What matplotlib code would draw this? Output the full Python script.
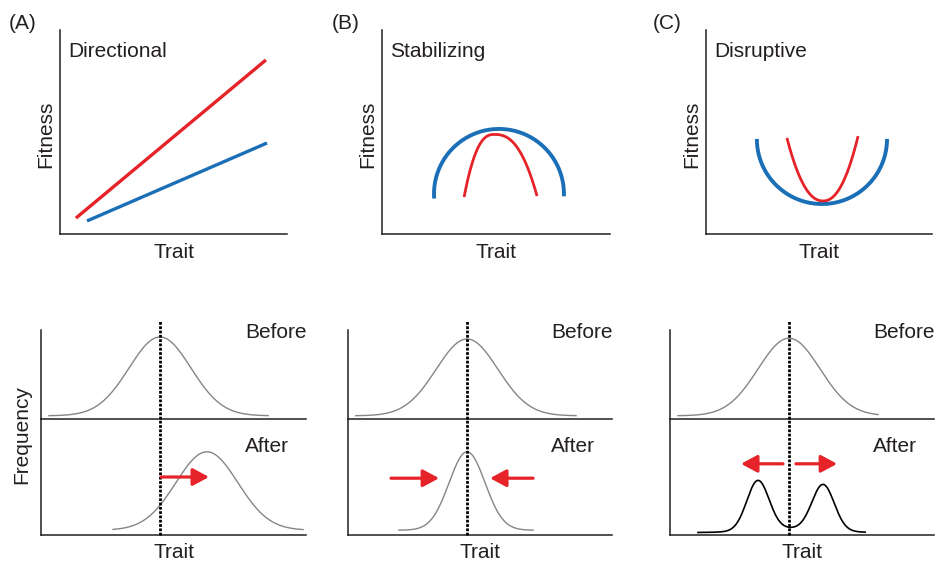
import numpy as np
import matplotlib
matplotlib.use("Agg")
import matplotlib.pyplot as plt

plt.rcParams['font.family'] = ['Liberation Sans', 'DejaVu Sans']

# ---- data (trait / fitness / frequency units) ----
panel_letters = ['(A)', '(B)', '(C)']
titles = ['Directional', 'Stabilizing', 'Disruptive']

# directional: straight fitness lines, endpoints
dir_red_x = [0.70, 9.07]
dir_red_y = [0.78, 8.53]
dir_blue_x = [1.19, 9.12]
dir_blue_y = [0.64, 4.46]

# arcs: centre x, centre y, radius x, radius y, start angle, end angle (deg)
stab_blue_arc = [5.13, 1.96, 2.85, 3.19, 184, -2]
disr_blue_arc = [5.13, 4.66, 2.88, 3.19, 180, 360]

# peaked curves: left x, apex x, right x, left y, apex y, right y, exponent
stab_red = [3.60, 4.92, 6.80, 1.81, 4.88, 1.86, 2.5]
disr_red = [3.58, 5.18, 6.73, 4.71, 1.62, 4.80, 2.2]

# frequency distributions (before selection)
before_mean = [4.49, 4.51, 4.51]
before_sd = [1.17, 1.17, 1.17]
before_span = [(0.30, 8.57), (0.30, 8.64), (0.30, 7.88)]
before_peak = [1.025, 1.00, 1.01]
before_base = [0.04, 0.04, 0.04]

# after selection: directional and stabilizing are single peaks
after_mean = [6.26, 4.51]
after_sd = [1.17, 0.68]
after_span = [(2.72, 9.89), (1.93, 7.01)]
after_peak = [1.04, 1.04]
after_base = [0.06, 0.06]

# disruptive after: two narrow peaks on a broad low hump
disr_after_means = [3.33, 5.80]
disr_after_sd = 0.42
disr_after_amps = [0.62, 0.57]
disr_hump = [4.55, 1.33, 0.05]  # mean, sd, amplitude
disr_after_base = 0.03
disr_after_span = (1.06, 7.39)

# red arrows in the "after" panels: (start, end) along trait, and height
arrows = [[(4.53, 6.34)], [(1.63, 3.45), (7.01, 5.38)], [(4.28, 2.69), (4.77, 6.33)]]
arrow_y = [0.725, 0.71, 0.89]

RED = '#e52329'
BLUE = '#1b6fb7'
GREY = '#858585'
INK = '#231f20'
FS = 15

W, H = 936, 563
fig = plt.figure(figsize=(W / 100, H / 100), dpi=100)


def add_px_axes(left, top, right, bottom):
    return fig.add_axes([left / W, 1 - bottom / H, (right - left) / W, (bottom - top) / H])


def style(ax, spines=('left', 'bottom')):
    for name, sp in ax.spines.items():
        sp.set_visible(name in spines)
        sp.set_color(INK)
        sp.set_linewidth(1.1)
    ax.set_xticks([])
    ax.set_yticks([])
    ax.patch.set_alpha(0)


def arc(cx, cy, rx, ry, a0, a1):
    t = np.radians(np.linspace(a0, a1, 200))
    return cx + rx * np.cos(t), cy + ry * np.sin(t)


def peak_shape(xl, xc, xr, yl, yc, yr, p):
    left = np.linspace(xl, xc, 120)
    right = np.linspace(xc, xr, 120)
    y_left = yc + (yl - yc) * ((xc - left) / (xc - xl)) ** p
    y_right = yc + (yr - yc) * ((right - xc) / (xr - xc)) ** p
    return np.concatenate([left, right]), np.concatenate([y_left, y_right])


def gauss(x, m, s):
    return np.exp(-0.5 * ((x - m) / s) ** 2)


# ---------------- top row: fitness ----------------
top_boxes = [(60, 30, 287, 234), (382, 30, 610, 234), (706, 30, 932, 234)]
letter_x = [9, 332, 653]
top_axes = []
for i, box in enumerate(top_boxes):
    ax = add_px_axes(*box)
    style(ax)
    ax.set_xlim(0, 10)
    ax.set_ylim(0, 10)
    w = box[2] - box[0]
    h = box[3] - box[1]
    ax.text(8 / w, (234 - 57) / h, titles[i], transform=ax.transAxes,
            fontsize=FS, color=INK, ha='left', va='baseline')
    ax.set_xlabel('Trait', fontsize=FS, color=INK, va='baseline')
    ax.xaxis.set_label_coords(0.5, -24 / h)
    ax.set_ylabel('Fitness', fontsize=FS, color=INK, va='baseline')
    ax.yaxis.set_label_coords(-9 / w, 0.49)
    fig.text(letter_x[i] / W, 1 - 29 / H, panel_letters[i], fontsize=FS,
             color=INK, ha='left', va='baseline')
    top_axes.append(ax)

ax = top_axes[0]
ax.plot(dir_red_x, dir_red_y, color=RED, lw=2.4, solid_capstyle='butt')
ax.plot(dir_blue_x, dir_blue_y, color=BLUE, lw=2.4, solid_capstyle='butt')

ax = top_axes[1]
bx, by = arc(*stab_blue_arc)
ax.plot(bx, by, color=BLUE, lw=2.8, solid_capstyle='butt')
rx, ry = peak_shape(*stab_red)
ax.plot(rx, ry, color=RED, lw=2.0, solid_capstyle='butt')

ax = top_axes[2]
bx, by = arc(*disr_blue_arc)
ax.plot(bx, by, color=BLUE, lw=2.8, solid_capstyle='butt')
rx, ry = peak_shape(*disr_red)
ax.plot(rx, ry, color=RED, lw=2.0, solid_capstyle='butt')

# ---------------- bottom row: frequency ----------------
cols = [(41, 306), (348, 612), (670, 934)]
UNIT = 80.0  # px per frequency unit
for i, (l, r) in enumerate(cols):
    w = r - l
    before = add_px_axes(l, 330, r, 419)
    after = add_px_axes(l, 419, r, 535)
    for ax, hpx in ((before, 89), (after, 116)):
        style(ax)
        ax.set_xlim(0, 10)
        ax.set_ylim(0, hpx / UNIT)

    # before distribution
    x = np.linspace(*before_span[i], 300)
    y = before_base[i] + (before_peak[i] - before_base[i]) * gauss(x, before_mean[i], before_sd[i])
    before.plot(x, y, color=GREY, lw=1.0)

    # after distribution
    if i < 2:
        x = np.linspace(*after_span[i], 300)
        y = after_base[i] + (after_peak[i] - after_base[i]) * gauss(x, after_mean[i], after_sd[i])
        after.plot(x, y, color=GREY, lw=1.0)
    else:
        x = np.linspace(*disr_after_span, 400)
        y = disr_after_base + disr_hump[2] * gauss(x, disr_hump[0], disr_hump[1])
        for m, a in zip(disr_after_means, disr_after_amps):
            y = y + a * gauss(x, m, disr_after_sd)
        after.plot(x, y, color='black', lw=1.2)

    # dotted line at the original mean
    m0 = before_mean[i]
    before.plot([m0, m0], [0, 1.22], color='black', lw=2.0,
                linestyle=(0, (1, 0.55)), clip_on=False, zorder=5)
    after.plot([m0, m0], [0, 116 / UNIT], color='black', lw=2.0,
               linestyle=(0, (1, 0.55)), clip_on=False, zorder=5)

    # red arrows
    for x0, x1 in arrows[i]:
        after.annotate('', xy=(x1, arrow_y[i]), xytext=(x0, arrow_y[i]),
                       arrowprops=dict(arrowstyle='-|>,head_length=0.65,head_width=0.35',
                                       color=RED, lw=2.3, mutation_scale=15,
                                       shrinkA=0, shrinkB=0), zorder=6)

    tx = (r - 61 - l) / w
    before.text(tx, (419 - 338) / 89, 'Before', transform=before.transAxes,
                fontsize=FS, color=INK, ha='left', va='baseline')
    after.text(tx, (535 - 452) / 116, 'After', transform=after.transAxes,
               fontsize=FS, color=INK, ha='left', va='baseline')
    after.set_xlabel('Trait', fontsize=FS, color=INK, va='baseline')
    after.xaxis.set_label_coords(0.5, -23 / 116)

fig.text(27 / W, 1 - 435 / H, 'Frequency', fontsize=FS, color=INK, rotation=90,
         rotation_mode='anchor', ha='center', va='baseline')

fig.savefig('out.png', dpi=100)
